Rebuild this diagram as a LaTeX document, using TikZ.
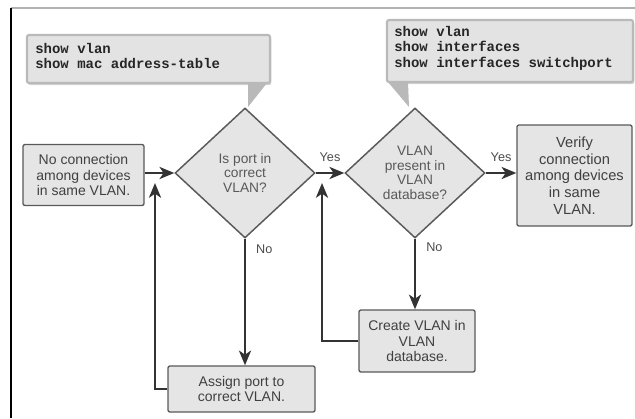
\documentclass[tikz,border=0pt]{standalone}
\usepackage{fontspec}
\setmainfont{Liberation Sans}
\newfontfamily\cmdfont{Liberation Mono}
\usetikzlibrary{arrows.meta,shapes.geometric,shadows}

\begin{document}
\begin{tikzpicture}[
    x=0.75pt,
    y=-0.75pt,
    box/.style={draw=gray!70!black, line width=1pt, fill=gray!20, rounded corners=1.5pt,
        align=center, text=black!75, inner sep=2pt,
        font=\fontsize{10.5pt}{11.5pt}\selectfont},
    decision/.style={diamond, draw=gray!70!black, line width=1.1pt, fill=gray!20,
        minimum width=105pt, minimum height=97.5pt, inner sep=0pt,
        align=center, text=black!65, font=\fontsize{10.3pt}{11pt}\selectfont},
    flow/.style={-{Stealth[length=11pt,width=9pt,inset=3pt]}, line width=2.2pt, draw=black!80},
    answer/.style={text=black!70, font=\fontsize{9.5pt}{11pt}\selectfont},
    cmd/.style={align=left, inner sep=0pt, text=black!85,
        font=\fontsize{10.5pt}{11.5pt}\cmdfont\bfseries},
    bubble/.style={fill=gray!22, draw=gray!55, line width=1.6pt, rounded corners=1.5pt,
        drop shadow={shadow xshift=1pt, shadow yshift=-1.5pt, opacity=0.35}}
]

% 0. Canvas and frame
\useasboundingbox (0,0) rectangle (635,418);
\draw[gray!60, line width=0.8pt] (11,8) -- (635,8);
\draw[black, line width=0.9pt] (11,8) -- (11,418);

% 1. Command callouts
% left callout, pointer towards first decision
\path[bubble] (27,35) rectangle (270,83);
\fill[gray!55] (248,83) -- (267,83) -- (248,107) -- cycle;
\node[cmd, anchor=north west] (cmdport) at (35,43) {show vlan\\show mac address-table};
% right callout, pointer towards second decision
\path[bubble] (387,20) rectangle (633,82);
\fill[gray!55] (388,82) -- (408,82) -- (409,107) -- cycle;
\node[cmd, anchor=north west] (cmdvlan) at (394,26) {show vlan\\show interfaces\\show interfaces switchport};

% 2. Steps and decisions
\node[box, minimum width=90.75pt, minimum height=45.75pt] (noconn) at (83.5,175)
    {No connection\\among devices\\in same VLAN.};
\node[decision] (portok) at (245,173) {Is port in\\correct\\VLAN?};
\node[decision] (vlanok) at (415,173) {VLAN\\present in\\VLAN\\database?};
\node[box, minimum width=86.25pt, minimum height=75.75pt,
    font=\fontsize{11pt}{12.5pt}\selectfont] (verify) at (574.5,175.5)
    {Verify\\connection\\among devices\\in same\\VLAN.};
\node[box, minimum width=110.25pt, minimum height=34.5pt] (assign) at (241.5,389)
    {Assign port to\\correct VLAN.};
\node[box, minimum width=87pt, minimum height=46.5pt] (create) at (417,341)
    {Create VLAN in\\VLAN\\database.};

% 3. Return points of the loops
\coordinate (backport) at (155,183);
\coordinate (backvlan) at (322,183);

% 4. Connectors
\draw[flow] (noconn.east |- portok.west) -- (portok.west);
\draw[flow] (portok.east) -- node[answer, above=4pt] {Yes} (vlanok.west);
\draw[flow] (vlanok.east) -- node[answer, above=4pt] {Yes} (verify.west |- vlanok.east);
\draw[flow] (portok.south) -- node[answer, pos=0.08, right=4pt] {No} (portok.south |- assign.north);
\draw[flow] (vlanok.south) -- node[answer, pos=0.12, right=4pt] {No} (vlanok.south |- create.north);
\draw[flow] (assign.west) -| (backport);
\draw[flow] (create.west) -| (backvlan);

\end{tikzpicture}
\end{document}
